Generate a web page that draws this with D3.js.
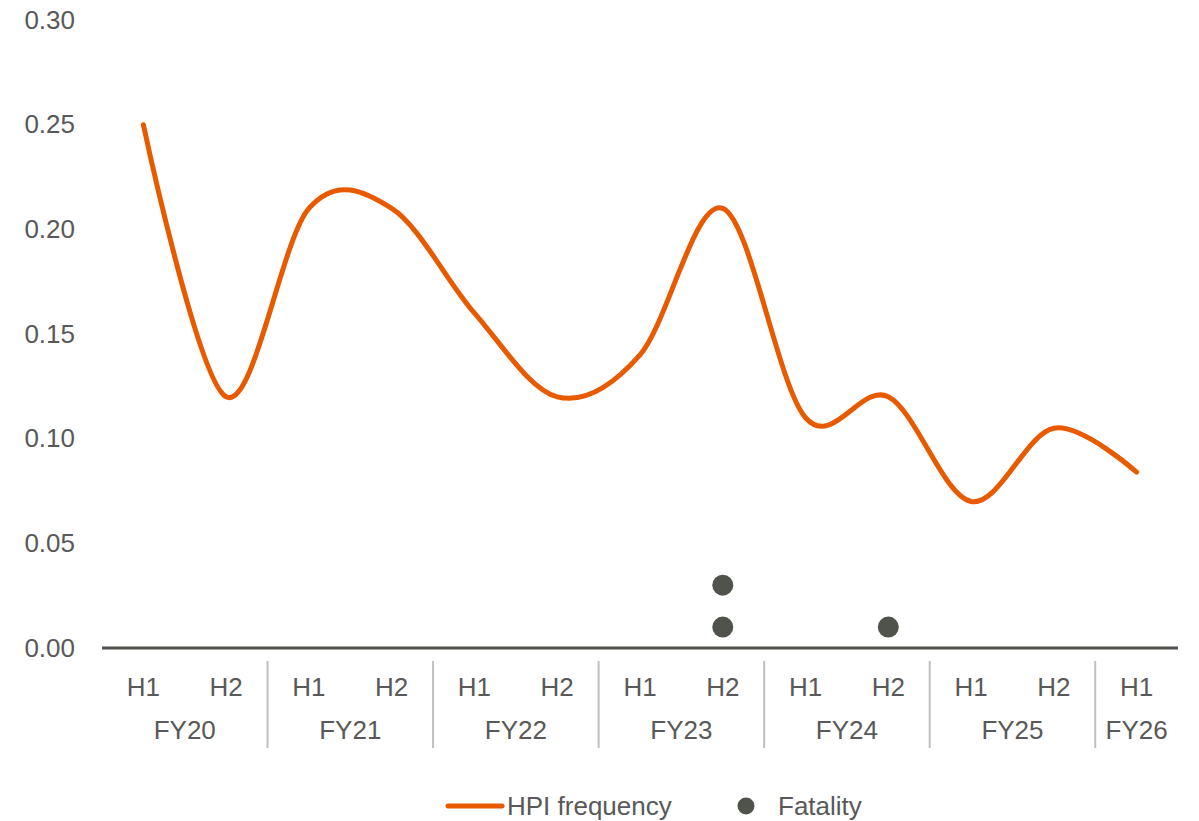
<!DOCTYPE html>
<html>
<head>
<meta charset="utf-8">
<script src="https://cdn.jsdelivr.net/npm/d3@7"></script>
<style>
  html, body { margin: 0; padding: 0; background: #fff; }
  svg { display: block; font-family: "Liberation Sans", Arial, sans-serif; }
</style>
</head>
<body>
<svg id="chart" width="1199" height="821"></svg>
<script>
// ---- data ----
const halves = ["H1","H2","H1","H2","H1","H2","H1","H2","H1","H2","H1","H2","H1"];
const years  = ["FY20","FY20","FY21","FY21","FY22","FY22","FY23","FY23","FY24","FY24","FY25","FY25","FY26"];
const fiscalYears = ["FY20","FY21","FY22","FY23","FY24","FY25","FY26"];
const hpiFrequency = [0.25, 0.12, 0.21, 0.21, 0.16, 0.12, 0.14, 0.21, 0.11, 0.12, 0.07, 0.105, 0.084];
const fatalityPeriods = ["FY23 H2", "FY23 H2", "FY24 H2"];
const fatalityValues = [0.03, 0.01, 0.01];
const yTicks = [0, 0.05, 0.10, 0.15, 0.20, 0.25, 0.30];
const seriesNames = ["HPI frequency", "Fatality"];

// ---- setup ----
const svg = d3.select("#chart");
const textColor = "#595959";
const lineColor = "#E85A00";
const dotColor = "#50534C";
const fontSize = 26;

const keys = halves.map((h, i) => years[i] + " " + h);
const x = d3.scaleBand().domain(keys).range([102, 1178]);
const y = d3.scaleLinear().domain([0, 0.30]).range([648, 20]);
const cx = k => x(k) + x.bandwidth() / 2;

// y axis
const yAxis = d3.axisLeft(y).tickValues(yTicks).tickFormat(d3.format(".2f")).tickSize(0).tickPadding(27);
const gy = svg.append("g").attr("transform", "translate(102,0)").call(yAxis);
gy.select(".domain").remove();
gy.selectAll("text").attr("fill", textColor).style("font-size", fontSize + "px")
  .style("font-family", '"Liberation Sans", Arial, sans-serif');

// x axis baseline
svg.append("line")
  .attr("x1", 102).attr("x2", 1178)
  .attr("y1", y(0)).attr("y2", y(0))
  .attr("stroke", dotColor).attr("stroke-width", 3);

// half labels
svg.append("g").selectAll("text").data(keys).join("text")
  .attr("x", d => cx(d)).attr("y", 687)
  .attr("text-anchor", "middle").attr("dominant-baseline", "central")
  .attr("fill", textColor).style("font-size", fontSize + "px")
  .text((d, i) => halves[i]);

// year labels and separators
fiscalYears.forEach((fy, j) => {
  const ks = keys.filter((k, i) => years[i] === fy);
  const x0 = x(ks[0]);
  const x1 = x(ks[ks.length - 1]) + x.bandwidth();
  svg.append("text")
    .attr("x", (x0 + x1) / 2).attr("y", 730)
    .attr("text-anchor", "middle").attr("dominant-baseline", "central")
    .attr("fill", textColor).style("font-size", fontSize + "px")
    .text(fy);
  if (j < fiscalYears.length - 1) {
    svg.append("line")
      .attr("x1", x1).attr("x2", x1)
      .attr("y1", 661).attr("y2", 748)
      .attr("stroke", "#BFBFBF").attr("stroke-width", 2);
  }
});

// HPI line
const line = d3.line()
  .x((d, i) => cx(keys[i]))
  .y(d => y(d))
  .curve(d3.curveCatmullRom.alpha(0));
svg.append("path")
  .datum(hpiFrequency)
  .attr("d", line)
  .attr("fill", "none")
  .attr("stroke", lineColor)
  .attr("stroke-width", 5)
  .attr("stroke-linecap", "round")
  .attr("stroke-linejoin", "round");

// Fatality dots
svg.append("g").selectAll("circle").data(fatalityValues).join("circle")
  .attr("cx", (d, i) => cx(fatalityPeriods[i]))
  .attr("cy", d => y(d))
  .attr("r", 10.5)
  .attr("fill", dotColor);

// legend
const lg = svg.append("g");
lg.append("line").attr("x1", 448).attr("x2", 502).attr("y1", 806).attr("y2", 806)
  .attr("stroke", lineColor).attr("stroke-width", 5).attr("stroke-linecap", "round");
lg.append("text").attr("x", 507).attr("y", 806).attr("dominant-baseline", "central")
  .attr("fill", textColor).style("font-size", fontSize + "px").text(seriesNames[0]);
lg.append("circle").attr("cx", 746).attr("cy", 806).attr("r", 8.5).attr("fill", dotColor);
lg.append("text").attr("x", 778).attr("y", 806).attr("dominant-baseline", "central")
  .attr("fill", textColor).style("font-size", fontSize + "px").text(seriesNames[1]);
</script>
</body>
</html>
